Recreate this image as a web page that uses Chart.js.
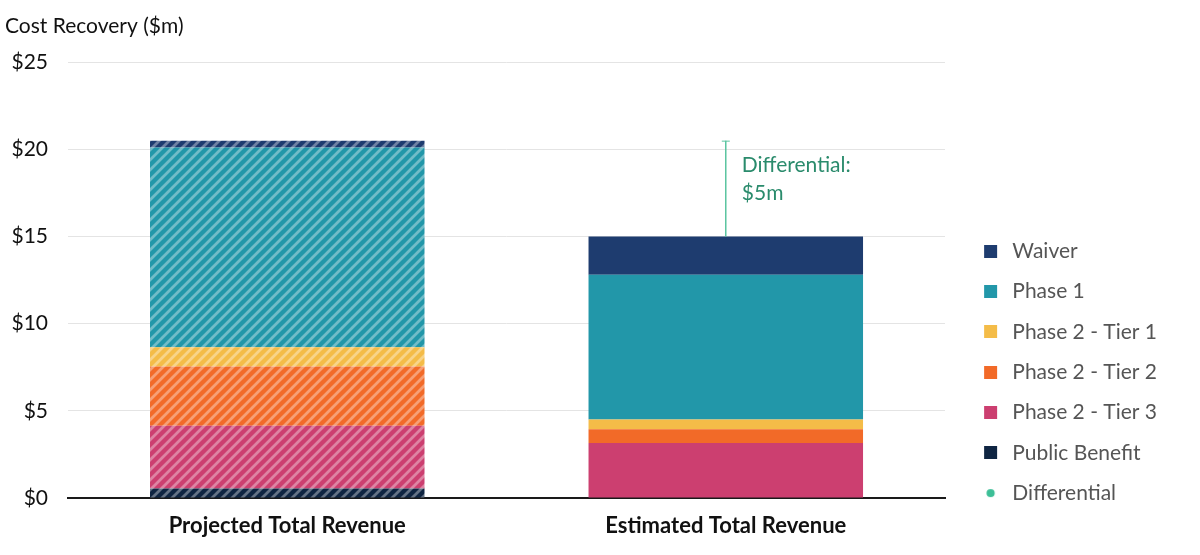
<!DOCTYPE html>
<html>
<head>
<meta charset="utf-8">
<script src="https://cdn.jsdelivr.net/npm/chart.js@4/dist/chart.umd.min.js"></script>
<style>
  html, body { margin: 0; padding: 0; background: #fff; }
  #wrap { width: 1200px; height: 555px; }
</style>
</head>
<body>
<div id="wrap"><canvas id="costChart"></canvas></div>
<script>
// categories and values ($m)
const categories = ['Projected Total Revenue', 'Estimated Total Revenue'];
const publicBenefit = [0.55, 0];
const tier3 = [3.6, 3.15];
const tier2 = [3.4, 0.8];
const tier1 = [1.1, 0.55];
const phase1 = [11.45, 8.3];
const waiver = [0.4, 2.2];
const differential = [null, [15, 20.5]];
const differentialText = ['Differential:', '$5m'];
const yTicks = [0, 5, 10, 15, 20, 25];

const FONT = 'Lato, "Open Sans", sans-serif';

// striped fill for the projected bar
function stripes(color) {
  const c = document.createElement('canvas');
  c.width = c.height = 10;
  const g = c.getContext('2d');
  g.fillStyle = color;
  g.fillRect(0, 0, 10, 10);
  g.strokeStyle = 'rgba(255,255,255,0.36)';
  g.lineWidth = 2.8;
  g.beginPath();
  g.moveTo(-5, 5); g.lineTo(5, -5);
  g.moveTo(0, 10); g.lineTo(10, 0);
  g.moveTo(5, 15); g.lineTo(15, 5);
  g.stroke();
  return g.createPattern(c, 'repeat');
}

// legend markers, drawn right of centre so they sit where the reference has them
function square(color) {
  const c = document.createElement('canvas');
  c.width = 30; c.height = 13;
  const g = c.getContext('2d');
  g.fillStyle = color;
  g.fillRect(16, 0, 13, 13);
  return c;
}
function dot(color) {
  const c = document.createElement('canvas');
  c.width = 30; c.height = 10;
  const g = c.getContext('2d');
  g.fillStyle = color;
  g.beginPath();
  g.arc(22.5, 5, 4.1, 0, Math.PI * 2);
  g.fill();
  return c;
}

function barSet(label, data, color) {
  return {
    label: label,
    data: data,
    backgroundColor: [stripes(color), color],
    borderWidth: 0,
    stack: 'main',
    marker: square(color)
  };
}

const diffColor = '#3dbf97';

// annotation for the differential: cap on top and label
const diffPlugin = {
  id: 'diffNote',
  afterDatasetsDraw(chart) {
    const meta = chart.getDatasetMeta(0);
    const y = chart.scales.y;
    const ctx = chart.ctx;
    differential.forEach((d, i) => {
      if (!d) return;
      const x = meta.data[i].x;
      const top = y.getPixelForValue(d[1]);
      ctx.save();
      ctx.strokeStyle = '#5cc4a0';
      ctx.lineWidth = 1;
      ctx.beginPath();
      ctx.moveTo(x - 4, top + 0.5);
      ctx.lineTo(x + 4, top + 0.5);
      ctx.stroke();
      ctx.fillStyle = '#2a8b6c';
      ctx.font = '21px ' + FONT;
      ctx.textBaseline = 'middle';
      differentialText.forEach((t, k) => {
        ctx.fillText(t, x + 16, top + 25 + k * 28);
      });
      ctx.restore();
    });
  }
};

new Chart(document.getElementById('costChart'), {
  type: 'bar',
  data: {
    labels: categories,
    datasets: [
      {
        label: 'Differential',
        data: differential,
        backgroundColor: '#4fc09a',
        borderWidth: 0,
        stack: 'diff',
        grouped: false,
        maxBarThickness: 1.4,
        marker: dot(diffColor)
      },
      barSet('Public Benefit', publicBenefit, '#0f2542'),
      barSet('Phase 2 - Tier 3', tier3, '#cc3f70'),
      barSet('Phase 2 - Tier 2', tier2, '#f26a28'),
      barSet('Phase 2 - Tier 1', tier1, '#f4bc48'),
      barSet('Phase 1', phase1, '#2297a9'),
      barSet('Waiver', waiver, '#1e3c6f')
    ]
  },
  options: {
    responsive: true,
    maintainAspectRatio: false,
    animation: false,
    categoryPercentage: 1,
    barPercentage: 0.626,
    layout: { padding: { left: 5, right: 33, top: 0, bottom: 10 } },
    scales: {
      x: {
        stacked: true,
        grid: { display: false, drawTicks: false },
        border: { display: true, color: '#1a1a1a', width: 2 },
        afterFit: s => { s.height = 47; },
        ticks: {
          color: '#111',
          font: { family: FONT, size: 22, weight: 'bold' },
          padding: 15
        }
      },
      y: {
        stacked: true,
        min: 0,
        max: 25,
        afterBuildTicks: s => { s.ticks = yTicks.map(v => ({ value: v })); },
        afterFit: s => { s.width = 63; },
        grid: { color: '#e4e4e4', lineWidth: 1, drawTicks: false },
        border: { display: false },
        ticks: {
          color: '#111',
          font: { family: FONT, size: 21 },
          padding: 20,
          callback: v => '$' + v
        }
      }
    },
    plugins: {
      title: {
        display: true,
        text: 'Cost Recovery ($m)',
        align: 'start',
        color: '#111',
        font: { family: FONT, size: 21, weight: 'normal' },
        padding: { top: 14, bottom: 23 }
      },
      legend: {
        position: 'right',
        align: 'start',
        reverse: true,
        // empty title only pushes the items down to where the reference has them
        title: { display: true, text: ' ', font: { size: 10 }, padding: { top: 209.5, bottom: 0 } },
        labels: {
          usePointStyle: true,
          pointStyleWidth: 37.5,
          boxHeight: 13,
          padding: 19.3,
          color: '#555',
          font: { family: FONT, size: 21 },
          generateLabels(chart) {
            const items = Chart.defaults.plugins.legend.labels.generateLabels(chart);
            items.forEach(it => { it.pointStyle = chart.data.datasets[it.datasetIndex].marker; });
            return items;
          }
        }
      },
      tooltip: { enabled: false }
    }
  },
  plugins: [diffPlugin]
});
</script>
</body>
</html>
